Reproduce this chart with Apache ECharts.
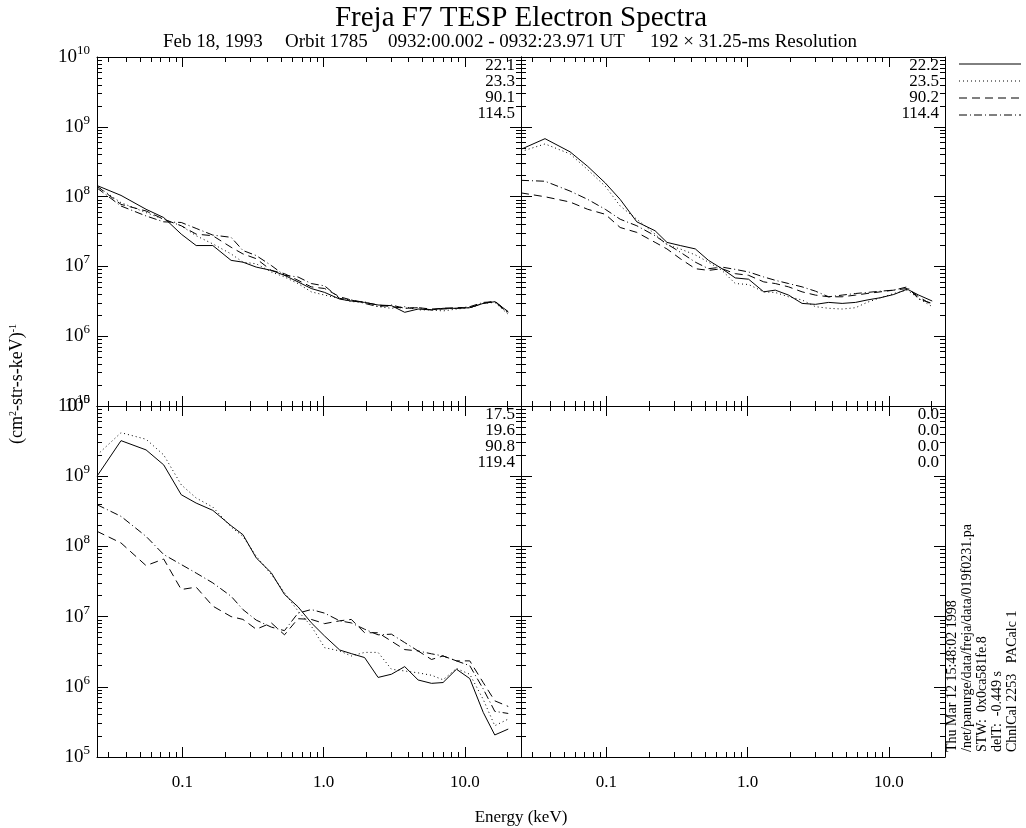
<!DOCTYPE html>
<html><head><meta charset="utf-8">
<script src="https://cdn.jsdelivr.net/npm/echarts@6/dist/echarts.min.js"></script>
<style>html,body{margin:0;padding:0;background:#fff}#c{width:1026px;height:828px}</style>
</head><body><div id="c"></div>
<script>
// ---- data ----
const energy = [0.0248, 0.0367, 0.0552, 0.0736, 0.098, 0.125, 0.164, 0.221, 0.268, 0.333, 0.426, 0.528, 0.658, 0.817, 1.016, 1.30, 1.57, 1.95, 2.43, 3.02, 3.75, 4.67, 5.81, 7.01, 8.73, 10.84, 13.5, 16.3, 20.3];

const tlSolid   = [1.44e8, 1.04e8, 6.58e7, 5.01e7, 2.9e7, 1.99e7, 1.99e7, 1.22e7, 1.15e7, 9.77e6, 8.77e6, 7.45e6, 6.0e6, 4.82e6, 4.24e6, 3.4e6, 3.19e6, 3.05e6, 2.8e6, 2.74e6, 2.2e6, 2.45e6, 2.38e6, 2.51e6, 2.51e6, 2.56e6, 2.95e6, 3.12e6, 2.25e6];
const tlDotted  = [1.41e8, 8.18e7, 5.9e7, 4.74e7, 3.82e7, 2.75e7, 2.1e7, 1.51e7, 1.15e7, 1.09e7, 8.32e6, 7.06e6, 5.68e6, 4.32e6, 3.88e6, 3.48e6, 3.12e6, 3.12e6, 2.65e6, 2.51e6, 2.65e6, 2.38e6, 2.38e6, 2.3e6, 2.45e6, 2.56e6, 2.95e6, 3.05e6, 2.06e6];
const tlDashed  = [1.41e8, 7.74e7, 6.22e7, 4.74e7, 3.82e7, 2.9e7, 2.75e7, 1.88e7, 1.51e7, 1.29e7, 8.77e6, 7.87e6, 6.32e6, 5.09e6, 4.82e6, 3.67e6, 3.3e6, 3.05e6, 2.8e6, 2.65e6, 2.51e6, 2.56e6, 2.45e6, 2.51e6, 2.56e6, 2.56e6, 2.95e6, 3.19e6, 2.2e6];
const tlDashDot = [1.33e8, 7.33e7, 5.28e7, 4.35e7, 4.26e7, 3.5e7, 2.81e7, 2.61e7, 1.69e7, 1.43e7, 1.03e7, 7.45e6, 7.06e6, 5.68e6, 5.26e6, 3.48e6, 3.3e6, 2.95e6, 2.65e6, 2.8e6, 2.51e6, 2.56e6, 2.38e6, 2.45e6, 2.51e6, 2.65e6, 3.05e6, 3.12e6, 2.13e6];

const trSolid   = [4.76e8, 6.76e8, 4.38e8, 2.71e8, 1.57e8, 9.12e7, 4.35e7, 3.24e7, 2.21e7, 1.99e7, 1.78e7, 1.22e7, 9.27e6, 6.84e6, 6.55e6, 4.32e6, 4.57e6, 3.88e6, 2.95e6, 2.86e6, 3.05e6, 2.95e6, 3.05e6, 3.3e6, 3.56e6, 3.96e6, 4.72e6, 3.88e6, 3.19e6];
const trDotted  = [4.42e8, 5.68e8, 4.09e8, 2.43e8, 1.41e8, 7.33e7, 4.74e7, 2.9e7, 2.03e7, 1.78e7, 1.46e7, 1.15e7, 8.77e6, 5.68e6, 5.5e6, 4.32e6, 4.23e6, 3.67e6, 3.3e6, 2.65e6, 2.51e6, 2.45e6, 2.56e6, 3.05e6, 3.56e6, 4.09e6, 4.57e6, 3.48e6, 2.65e6];
const trDashed  = [1.13e8, 9.95e7, 8.36e7, 6.58e7, 5.58e7, 3.61e7, 3.07e7, 2.21e7, 1.78e7, 1.29e7, 9.27e6, 8.77e6, 9.27e6, 7.87e6, 7.45e6, 6.0e6, 5.68e6, 5.09e6, 4.32e6, 3.88e6, 3.67e6, 3.67e6, 3.88e6, 4.09e6, 4.32e6, 4.57e6, 4.82e6, 3.67e6, 2.8e6];
const trDashDot = [1.71e8, 1.66e8, 1.2e8, 9.12e7, 6.58e7, 4.74e7, 3.82e7, 2.75e7, 2.1e7, 1.6e7, 1.15e7, 9.27e6, 9.77e6, 9.06e6, 8.32e6, 7.06e6, 6.32e6, 5.68e6, 5.09e6, 4.42e6, 3.67e6, 3.88e6, 4.09e6, 4.23e6, 4.42e6, 4.57e6, 5.09e6, 3.4e6, 2.95e6];

const blSolid   = [1.0e9, 3.21e9, 2.37e9, 1.45e9, 5.45e8, 4.14e8, 3.26e8, 1.97e8, 1.47e8, 6.85e7, 4.2e7, 2.07e7, 1.38e7, 8.18e6, 5.28e6, 3.34e6, 2.97e6, 2.61e6, 1.36e6, 1.51e6, 1.94e6, 1.25e6, 1.12e6, 1.15e6, 1.78e6, 1.31e6, 4.32e5, 2.06e5, 2.5e5];
const blDotted  = [2.0e9, 4.17e9, 3.36e9, 2.01e9, 7.55e8, 4.89e8, 3.63e8, 1.89e8, 1.39e8, 7.24e7, 3.98e7, 2.19e7, 1.2e7, 7.33e6, 3.61e6, 3.24e6, 2.75e6, 3.09e6, 3.09e6, 1.78e6, 1.68e6, 1.58e6, 1.46e6, 1.26e6, 1.82e6, 1.51e6, 6.61e5, 2.79e5, 3.47e5];
const blDashed  = [1.64e8, 1.12e8, 5.33e7, 6.61e7, 2.43e7, 2.63e7, 1.41e7, 1.0e7, 9.12e6, 6.61e6, 8.13e6, 5.5e6, 9.33e6, 9.12e6, 7.94e6, 8.71e6, 9.12e6, 5.89e6, 5.89e6, 4.47e6, 3.39e6, 3.24e6, 2.45e6, 2.75e6, 2.34e6, 2.34e6, 1.15e6, 6.31e5, 5.25e5];
const blDashDot = [3.93e8, 2.68e8, 1.39e8, 7.66e7, 5.52e7, 4.17e7, 3.02e7, 1.95e7, 1.26e7, 8.91e6, 7.08e6, 6.31e6, 1.12e7, 1.26e7, 1.12e7, 8.71e6, 8.13e6, 6.61e6, 5.5e6, 5.62e6, 4.27e6, 3.24e6, 2.95e6, 2.75e6, 2.34e6, 2.0e6, 9.33e5, 4.47e5, 4.17e5];

const tlAngles = ['22.1', '23.3', '90.1', '114.5'];
const trAngles = ['22.2', '23.5', '90.2', '114.4'];
const blAngles = ['17.5', '19.6', '90.8', '119.4'];
const brAngles = ['0.0', '0.0', '0.0', '0.0'];

const xMajorTicks = [0.1, 1, 10];
const xTickLabels = ['0.1', '1.0', '10.0'];
const xMinorTicks = [0.03, 0.04, 0.05, 0.06, 0.07, 0.08, 0.09, 0.2, 0.3, 0.4, 0.5, 0.6, 0.7, 0.8, 0.9, 2, 3, 4, 5, 6, 7, 8, 9, 20];
const yMajorTicks = [1e5, 1e6, 1e7, 1e8, 1e9, 1e10];
const yTickExponents = ['5', '6', '7', '8', '9', '10'];
const yMinorTicks = [2e5,3e5,4e5,5e5,6e5,7e5,8e5,9e5, 2e6,3e6,4e6,5e6,6e6,7e6,8e6,9e6, 2e7,3e7,4e7,5e7,6e7,7e7,8e7,9e7, 2e8,3e8,4e8,5e8,6e8,7e8,8e8,9e8, 2e9,3e9,4e9,5e9,6e9,7e9,8e9,9e9];

const titleText = 'Freja F7 TESP Electron Spectra';
const subtitleParts = ['Feb 18, 1993', 'Orbit 1785', '0932:00.002 - 0932:23.971 UT', '192 \u00d7 31.25-ms Resolution'];
const sideTexts = ['Thu Mar 12 15:48:02 1998', '/net/panurge/data/freja/data/019f0231.pa', 'STW:  0x0ca581fe.8', 'delT:  -0.449 s', 'ChnlCal 2253   PACalc 1'];

// ---- layout ----
const FONT = "'Liberation Serif', 'DejaVu Serif', serif";
const grids = [
  {left: 97, top: 57, width: 424, height: 349},
  {left: 521, top: 57, width: 424, height: 349},
  {left: 97, top: 406, width: 424, height: 351},
  {left: 521, top: 406, width: 424, height: 351}
];
const panelSeries = [
  [tlSolid, tlDotted, tlDashed, tlDashDot],
  [trSolid, trDotted, trDashed, trDashDot],
  [blSolid, blDotted, blDashed, blDashDot],
  []
];
const panelAngles = [tlAngles, trAngles, blAngles, brAngles];
const dashes = ['solid', [1, 3], [8, 5], [8, 3, 1, 3]];
const XMIN = 0.0248, XMAX = 25, YMIN = 1e5, YMAX = 1e10;

function expOf(v) {
  const i = yMajorTicks.findIndex(t => Math.abs(t - v) / t < 1e-6);
  return i >= 0 ? yTickExponents[i] : '';
}

const xAxes = [], yAxes = [], series = [];
const lineCol = '#000';
grids.forEach((g, gi) => {
  const isBottom = gi >= 2, isLeft = gi % 2 === 0;
  ['bottom', 'top'].forEach(pos => {
    xAxes.push({
      type: 'log', gridIndex: gi, position: pos, min: XMIN, max: XMAX, logBase: 10,
      axisLine: {show: true, onZero: false, lineStyle: {color: lineCol, width: 1}},
      axisTick: {show: true, inside: true, length: 10, customValues: xMajorTicks, lineStyle: {color: lineCol, width: 1}},
      axisLabel: {show: isBottom && pos === 'bottom', customValues: xMajorTicks, margin: 17,
        formatter: v => xTickLabels[xMajorTicks.findIndex(t => Math.abs(t - v) / t < 1e-6)] || '',
        color: '#000', fontFamily: FONT, fontSize: 17},
      splitLine: {show: false}
    });
    xAxes.push({
      type: 'log', gridIndex: gi, position: pos, min: XMIN, max: XMAX, logBase: 10,
      axisLine: {show: false, onZero: false},
      axisTick: {show: true, inside: true, length: 5, customValues: xMinorTicks, lineStyle: {color: lineCol, width: 1}},
      axisLabel: {show: false}, splitLine: {show: false}
    });
  });
  ['left', 'right'].forEach(pos => {
    const lab = isLeft && pos === 'left';
    yAxes.push({
      type: 'log', gridIndex: gi, position: pos, min: YMIN, max: YMAX, logBase: 10,
      axisLine: {show: true, onZero: false, lineStyle: {color: lineCol, width: 1}},
      axisTick: {show: true, inside: true, length: 11, customValues: yMajorTicks, lineStyle: {color: lineCol, width: 1}},
      axisLabel: {show: lab, customValues: yMajorTicks, margin: 7,
        showMinLabel: true, showMaxLabel: true,
        formatter: v => '{b|10}{h|' + expOf(v) + '}',
        rich: {
          b: {fontFamily: FONT, fontSize: 19, color: '#000'},
          h: {fontFamily: FONT, fontSize: 13, color: 'rgba(0,0,0,0)'}
        }},
      splitLine: {show: false}
    });
    yAxes.push({
      type: 'log', gridIndex: gi, position: pos, min: YMIN, max: YMAX, logBase: 10,
      axisLine: {show: false, onZero: false},
      axisTick: {show: true, inside: true, length: 5, customValues: yMinorTicks, lineStyle: {color: lineCol, width: 1}},
      axisLabel: {show: lab, customValues: yMajorTicks, margin: 7, showMinLabel: true, showMaxLabel: true,
        formatter: v => expOf(v), fontFamily: FONT, fontSize: 13, color: '#000', verticalAlign: 'bottom'},
      splitLine: {show: false}
    });
  });
  panelSeries[gi].forEach((vals, si) => {
    series.push({
      type: 'line', xAxisIndex: gi * 4, yAxisIndex: gi * 4, showSymbol: false, symbol: 'none',
      silent: true, animation: false, clip: true,
      lineStyle: {color: '#000', width: 1, type: dashes[si]},
      data: energy.map((e, k) => [e, vals[k]])
    });
  });
});

// ---- text and legend graphics ----
const graphics = [];
graphics.push({type: 'text', x: 521, y: 18, style: {text: titleText, font: '29px ' + FONT, fill: '#000', align: 'center', verticalAlign: 'middle'}});
const subX = [163, 285, 388, 857];
const subAlign = ['left', 'left', 'left', 'right'];
subtitleParts.forEach((t, i) => graphics.push({type: 'text', x: subX[i], y: 42, style: {text: t, font: '19px ' + FONT, fill: '#000', align: subAlign[i], verticalAlign: 'middle'}}));
grids.forEach((g, gi) => {
  panelAngles[gi].forEach((t, i) => graphics.push({type: 'text', x: g.left + g.width - 6, y: g.top + 9 + i * 16,
    style: {text: t, font: '17px ' + FONT, fill: '#000', align: 'right', verticalAlign: 'middle'}}));
});
const legY = [64, 81, 98, 115];
dashes.forEach((d, i) => graphics.push({type: 'line', shape: {x1: 959, y1: legY[i], x2: 1021, y2: legY[i]},
  style: {stroke: '#000', lineWidth: 1, lineDash: d === 'solid' ? null : d}}));
const sideX = [952, 967, 982, 997, 1012];
sideTexts.forEach((t, i) => graphics.push({type: 'text', x: sideX[i], y: 752, rotation: Math.PI / 2,
  style: {text: t, font: '14px ' + FONT, fill: '#000', align: 'left', verticalAlign: 'middle'}}));
graphics.push({type: 'text', x: 17, y: 384, rotation: Math.PI / 2,
  style: {text: '{b|(cm}{s|2}{b|-str-s-keV)}{s|-1}', fill: '#000', align: 'center', verticalAlign: 'middle',
    rich: {b: {font: '18px ' + FONT, fill: '#000', verticalAlign: 'bottom', lineHeight: 18},
           s: {font: '10px ' + FONT, fill: '#000', verticalAlign: 'bottom', padding: [0, 0, 8, 0], lineHeight: 10}}}});
graphics.push({type: 'text', x: 521, y: 818, style: {text: 'Energy (keV)', font: '17px ' + FONT, fill: '#000', align: 'center', verticalAlign: 'middle'}});

const chart = echarts.init(document.getElementById('c'), null, {renderer: 'canvas'});
chart.setOption({
  backgroundColor: '#fff',
  animation: false,
  grid: grids.map(g => Object.assign({containLabel: false}, g)),
  xAxis: xAxes,
  yAxis: yAxes,
  series: series,
  graphic: graphics
});
</script>
</body></html>
